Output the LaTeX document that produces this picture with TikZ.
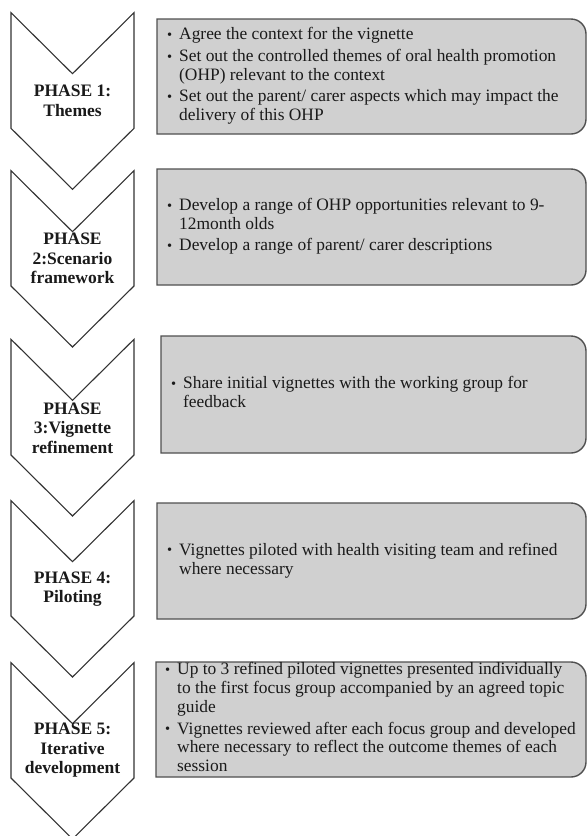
\documentclass[tikz,border=0pt]{standalone}
\usepackage{fontspec}
\setmainfont{Liberation Serif}
\definecolor{boxfill}{HTML}{D0D0D0}
\definecolor{boxline}{HTML}{505050}
\definecolor{chevline}{HTML}{333333}
\definecolor{txt}{HTML}{1A1A1A}
\newcommand{\bl}{\makebox[12pt][l]{\raisebox{0.5pt}{\fontsize{14.5}{14.5}\selectfont\textbullet}}}
\newenvironment{blist}{\begin{tabular}{@{}l@{}l@{}}}{\end{tabular}}
\newcommand{\chevron}[2]{%
  \draw[chev] (11,#1) -- (72.5,{#1+61}) -- (134,#1) -- (134,#2) -- (72.5,{#2+61}) -- (11,#2) -- cycle;}
\newcommand{\panelbox}[3]{%
  \draw[panel] (#1,#2) -- (571,#2) arc[start angle=-90,end angle=0,radius=15] -- (586,{#3-15}) arc[start angle=0,end angle=90,radius=15] -- (#1,#3) -- cycle;}
\begin{document}
\begin{tikzpicture}[x=1pt,y=-1pt,
  chev/.style={draw=chevline, line width=1.1pt, line join=miter, fill=white},
  phasetext/.style={font=\bfseries\fontsize{17.5}{19.5}\selectfont, align=center, text=txt, inner sep=0pt},
  boxtext/.style={font=\fontsize{17.4}{18.7}\selectfont, anchor=west, inner sep=0pt, text=txt},
  panel/.style={draw=boxline, line width=1.4pt, fill=boxfill}]
\useasboundingbox (0,0) rectangle (587,836);
% chevrons
\chevron{12.7}{128.3}
\chevron{170.7}{286}
\chevron{339.3}{455}
\chevron{500.7}{616}
\chevron{662.7}{778}
\node[phasetext] (p1) at (72.5,101) {PHASE 1:\\Themes};
\node[phasetext] (p2) at (72.5,258.5) {PHASE\\2:Scenario\\framework};
\node[phasetext] (p3) at (72.5,428) {PHASE\\3:Vignette\\refinement};
\node[phasetext] (p4) at (72.5,589) {PHASE 4:\\Piloting};
\node[phasetext] (p5) at (72.5,750.5) {PHASE 5:\\Iterative\\development};
% panels
\panelbox{157}{19}{134}
\panelbox{157}{169}{285}
\panelbox{161}{336}{453}
\panelbox{157}{503}{619}
\panelbox{156}{662}{777}
\node[boxtext] (t1) at (167,76.5) {\begin{blist}
\bl & Agree the context for the vignette\\[3pt]
\bl & Set out the controlled themes of oral health promotion\\
    & (OHP) relevant to the context\\[3pt]
\bl & Set out the parent/ carer aspects which may impact the\\
    & delivery of this OHP
\end{blist}};
\node[boxtext] (t2) at (167,227) {\begin{blist}
\bl & Develop a range of OHP opportunities relevant to 9-\\
    & 12month olds\\[3pt]
\bl & Develop a range of parent/ carer descriptions
\end{blist}};
\node[boxtext] (t3) at (171,394.5) {\begin{blist}
\bl & Share initial vignettes with the working group for\\
    & feedback
\end{blist}};
\node[boxtext] (t4) at (167,561) {\begin{blist}
\bl & Vignettes piloted with health visiting team and refined\\
    & where necessary
\end{blist}};
\node[boxtext] (t5) at (165,719.5) {\begin{blist}
\bl & Up to 3 refined piloted vignettes presented individually\\
    & to the first focus group accompanied by an agreed topic\\
    & guide\\[3pt]
\bl & Vignettes reviewed after each focus group and developed\\
    & where necessary to reflect the outcome themes of each\\
    & session
\end{blist}};
\end{tikzpicture}
\end{document}
